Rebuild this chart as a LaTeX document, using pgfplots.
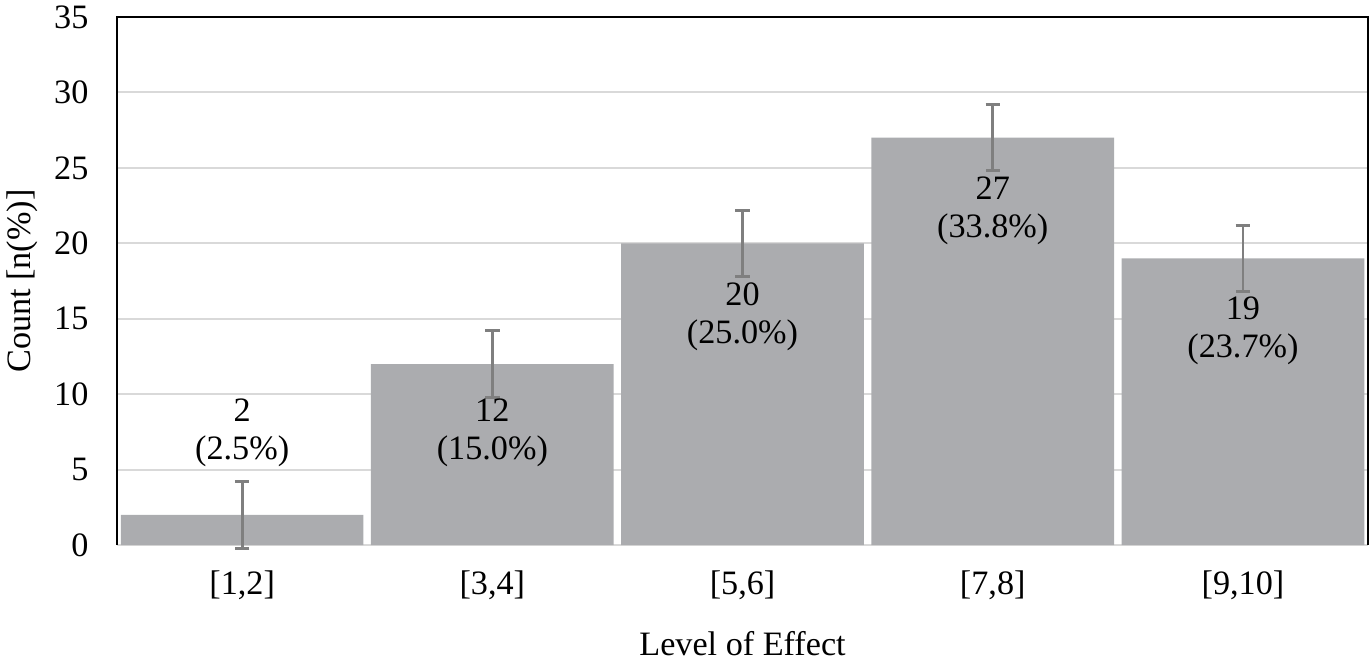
\documentclass[border=0pt]{standalone}
\usepackage{pgfplots}
\pgfplotsset{compat=1.18}
\usepackage{fontspec}
\setmainfont{Liberation Serif}
\usetikzlibrary{calc}
\definecolor{barfill}{HTML}{ABACAF}
\definecolor{errgray}{HTML}{7F7F7F}
\definecolor{gridgray}{HTML}{D9D9D9}

\begin{document}
\begin{tikzpicture}
  \fontsize{12.3}{13.6}\selectfont
  \begin{axis}[scale only axis,
               width=450pt, height=190pt,
               xmin=-0.5, xmax=4.5,
               ymin=0, ymax=35,
               ytick={0,5,10,15,20,25,30,35},
               xtick={0,1,2,3,4},
               xticklabels={{[1,2]},{[3,4]},{[5,6]},{[7,8]},{[9,10]}},
               major tick length=0pt,
               ymajorgrids,
               grid style={gridgray, line width=0.75pt},
               axis line style={draw=none},
               /pgf/number format/assume math mode=true,
               ticklabel style={font=\fontsize{12.3}{13.6}\selectfont},
               yticklabel style={xshift=-6pt},
               xticklabel style={yshift=-5pt},
               xlabel={Level of Effect},
               ylabel={Count [n(\%)]},
               label style={font=\fontsize{12.3}{13.6}\selectfont},
               xlabel style={yshift=-3pt},
               ylabel style={yshift=-2.5pt},
               clip=false]
    % bars with error bars
    \addplot[ybar, bar width=87.3pt, fill=barfill, draw=none,
             error bars/.cd, y dir=both, y explicit,
             error bar style={errgray, line width=1pt},
             error mark options={rotate=90, mark size=2.6pt, line width=1pt, errgray}]
      table[x=x, y=n, y error=err] {
        x n  err
        0 2  2.2
        1 12 2.2
        2 20 2.2
        3 27 2.2
        4 19 2.2
      };
    % value labels
    \addplot[draw=none, mark=none,
             nodes near coords={\pgfmathprintnumber{\pgfplotspointmeta}\\(\pct\%)},
             point meta=\thisrow{n},
             visualization depends on={value \thisrow{pct}\as\pct},
             every node near coord/.append style={anchor=center, align=center,
               font=\fontsize{12.3}{13.6}\selectfont, inner sep=0pt}]
      table[x=x, y=ly] {
        x ly    n  pct
        0 7.45  2  2.5
        1 7.45  12 15.0
        2 15.15 20 25.0
        3 22.15 27 33.8
        4 14.2  19 23.7
      };
    \draw[black, line width=0.6pt] (rel axis cs:0,0) -- (rel axis cs:0,1)
      -- (rel axis cs:1,1) -- (rel axis cs:1,0);
  \end{axis}
  \pgfresetboundingbox
  \path[use as bounding box] ($(current axis.south west)+(-42.1pt,-43.9pt)$)
    rectangle ($(current axis.north east)+(0.7pt,6.1pt)$);
\end{tikzpicture}
\end{document}
